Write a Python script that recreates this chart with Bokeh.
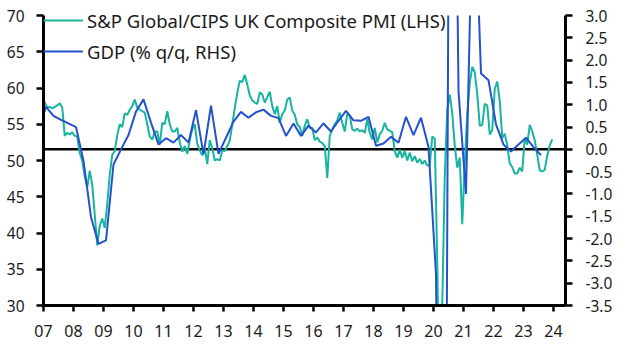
from bokeh.plotting import figure
from bokeh.models import (Range1d, LinearAxis, FixedTicker, NumeralTickFormatter,
                          Legend, LegendItem, Span)
from bokeh.embed import file_html
from bokeh.resources import INLINE

# ---------------- data ----------------
pmi_first_year = 2007   # monthly, starting January 2007
pmi = [
    # 2007
    58.5, 58.0, 57.3, 57.4, 57.2, 57.4, 57.6, 57.9, 57.3, 53.4, 53.8, 53.6,
    # 2008
    53.9, 53.4, 53.3, 51.0, 50.0, 47.8, 46.3, 48.6, 46.6, 42.5, 38.3, 41.0,
    # 2009
    42.0, 40.7, 44.0, 48.0, 50.8, 51.3, 53.5, 55.0, 54.6, 56.5, 56.3, 57.0,
    # 2010
    57.5, 58.4, 57.3, 57.0, 56.8, 56.6, 55.0, 53.3, 52.9, 54.0, 54.0, 52.2,
    # 2011
    55.2, 55.0, 56.8, 55.0, 54.0, 54.0, 54.5, 52.5, 51.2, 52.0, 50.9, 52.8,
    # 2012
    54.3, 55.0, 52.3, 51.4, 50.7, 51.8, 49.5, 52.8, 51.7, 50.0, 50.2, 50.0,
    # 2013
    51.4, 51.3, 52.0, 52.7, 55.0, 57.2, 59.3, 61.0, 60.8, 61.8, 60.5, 59.0,
    # 2014
    58.3, 58.0, 57.8, 59.4, 59.1, 58.0, 58.7, 59.5, 57.5, 56.4, 57.5, 55.2,
    # 2015
    56.4, 56.9, 58.4, 58.7, 56.9, 56.3, 55.0, 54.6, 53.4, 54.8, 55.7, 54.5,
    # 2016
    54.5, 52.8, 53.2, 52.6, 52.4, 52.0, 47.6, 53.4, 54.3, 55.0, 55.5, 56.6,
    # 2017
    55.2, 54.0, 56.4, 56.2, 54.3, 54.1, 54.4, 54.0, 54.2, 53.8, 55.7, 53.8,
    # 2018
    52.9, 54.5, 52.5, 53.6, 54.1, 55.2, 54.3, 54.1, 53.9, 51.3, 50.4, 51.5,
    # 2019
    50.4, 51.3, 50.0, 51.1, 49.9, 50.6, 49.7, 50.2, 49.5, 50.0, 49.3, 49.3,
    # 2020
    53.3, 53.0, 36.0, 13.8, 30.0, 47.7, 57.0, 59.1, 56.5, 52.1, 49.0, 50.4,
    # 2021
    41.2, 49.6, 56.4, 60.7, 62.9, 62.2, 59.2, 54.8, 54.9, 57.8, 57.6, 53.6,
    # 2022
    54.2, 59.9, 60.9, 58.2, 53.1, 53.7, 52.1, 49.6, 49.1, 48.2, 48.2, 49.0,
    # 2023
    48.5, 53.1, 52.2, 54.9, 54.0, 52.8, 50.8, 48.6, 48.5, 48.7, 50.7, 52.1,
    # 2024
    52.9,
]

gdp_first_quarter = (2006, 4)   # quarterly, starting 2006 Q4
gdp = [
    0.45,
    0.95, 0.75, 0.66, 0.58,       # 2007
    0.50, -0.26, -1.52, -2.12,    # 2008
    -2.04, -0.34, 0.00, 0.32,     # 2009
    0.85, 1.12, 0.60, 0.11,       # 2010
    0.25, 0.15, 0.32, 0.15,       # 2011
    0.88, -0.11, 0.98, -0.10,     # 2012
    0.26, 0.62, 0.84, 0.71,       # 2013
    0.83, 0.89, 0.75, 0.70,       # 2014
    0.30, 0.58, 0.30, 0.53,       # 2015
    0.38, 0.58, 0.40, 0.64,       # 2016
    0.86, 0.65, 0.64, 0.73,       # 2017
    0.08, 0.13, 0.28, 0.15,       # 2018
    0.73, 0.32, 0.71, 0.05,       # 2019
    -2.8, -20.0, 16.5, 1.30,      # 2020
    -1.0, 6.5, 1.70, 1.55,        # 2021
    0.56, 0.11, -0.05, 0.11,      # 2022
    0.26, 0.05, -0.13,            # 2023
]

year_ticks = list(range(2007, 2025))
year_labels = [f"{y % 100:02d}" for y in year_ticks]
pmi_ticks = [30, 35, 40, 45, 50, 55, 60, 65, 70]
gdp_ticks = [-3.5, -3.0, -2.5, -2.0, -1.5, -1.0, -0.5, 0.0, 0.5, 1.0, 1.5, 2.0, 2.5, 3.0]

pmi_label = "S&P Global/CIPS UK Composite PMI (LHS)"
gdp_label = "GDP (% q/q, RHS)"

TEAL = "#17b4a0"
BLUE = "#2352cc"
FONT = "Noto Sans"

# ---------------- positions from dates ----------------
pmi_x = [pmi_first_year + i / 12 - 1 / 24 for i in range(len(pmi))]
gy, gq = gdp_first_quarter
gdp_x = []
for i in range(len(gdp)):
    qi = (gq - 1) + i
    year = gy + qi // 4
    q = qi % 4 + 1
    gdp_x.append(year + (3 * q - 2) / 12)

# ---------------- figure ----------------
p = figure(width=629, height=354, output_backend="svg", toolbar_location=None,
           x_range=Range1d(2007.0, 2024.4), y_range=Range1d(30, 70),
           min_border_left=43, min_border_right=64, min_border_top=15,
           min_border_bottom=49)
p.extra_y_ranges = {"gdp": Range1d(-3.5, 3.0)}
p.outline_line_color = None
p.grid.visible = False
p.background_fill_color = "white"
p.border_fill_color = "white"

zero = Span(location=0, dimension="width", y_range_name="gdp",
            line_color="black", line_width=2.5, level="underlay")
p.add_layout(zero)

r_pmi = p.line(pmi_x, pmi, line_color=TEAL, line_width=2)
r_gdp = p.line(gdp_x, gdp, line_color=BLUE, line_width=2, y_range_name="gdp")

right = LinearAxis(y_range_name="gdp")
p.add_layout(right, "right")

for ax in [p.yaxis[0], right, p.xaxis[0]]:
    ax.axis_line_width = 3
    ax.axis_line_color = "black"
    ax.major_tick_line_width = 2.5
    ax.major_tick_line_color = "black"
    ax.major_tick_out = 7
    ax.major_tick_in = 0
    ax.minor_tick_line_color = None
    ax.major_label_text_font = FONT
    ax.major_label_text_color = "#1a1a1a"

p.yaxis[0].ticker = FixedTicker(ticks=pmi_ticks)
p.yaxis[0].formatter = NumeralTickFormatter(format="0")
p.yaxis[0].major_label_text_font_size = "15.5px"
p.yaxis[0].major_label_standoff = 12

right.ticker = FixedTicker(ticks=gdp_ticks)
right.formatter = NumeralTickFormatter(format="0.0")
right.major_label_text_font_size = "15.5px"
right.major_label_standoff = 13

p.xaxis[0].ticker = FixedTicker(ticks=year_ticks)
p.xaxis[0].major_label_overrides = dict(zip(year_ticks, year_labels))
p.xaxis[0].major_label_text_font_size = "16px"
p.xaxis[0].major_tick_out = 6
p.xaxis[0].major_label_standoff = 13

legend = Legend(items=[LegendItem(label=pmi_label, renderers=[r_pmi]),
                       LegendItem(label=gdp_label, renderers=[r_gdp])],
                location=(0, 241))
legend.border_line_color = None
legend.background_fill_alpha = 0
legend.label_text_font = FONT
legend.label_text_font_size = "18.5px"
legend.label_text_color = "#1a1a1a"
legend.glyph_width = 40
legend.glyph_height = 26
legend.label_height = 26
legend.spacing = 5
legend.padding = 4
legend.margin = 0
legend.label_standoff = 4
p.add_layout(legend)

open("out.html", "w").write(file_html(p, INLINE))
